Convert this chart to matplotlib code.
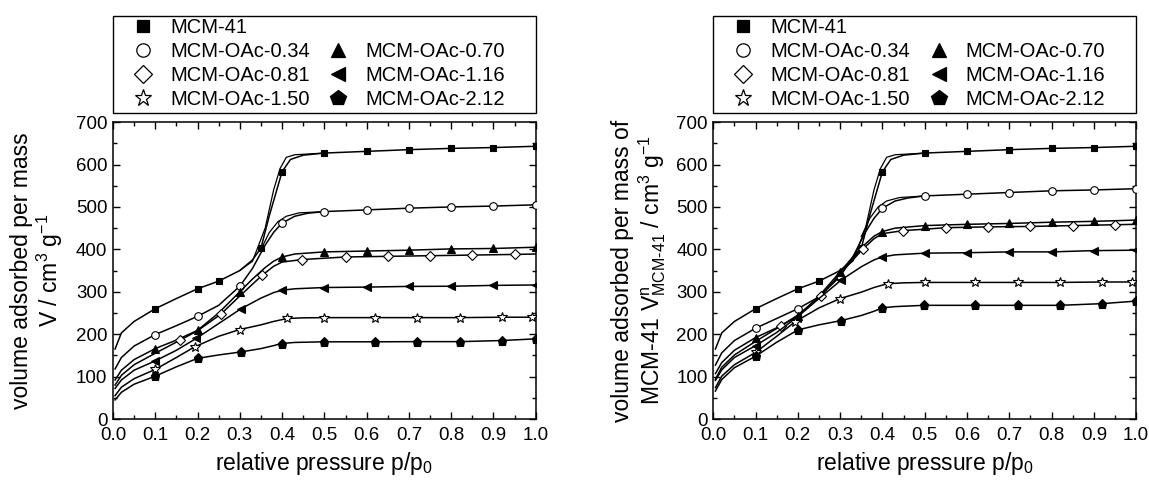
import numpy as np
import matplotlib
matplotlib.use("Agg")
import matplotlib.pyplot as plt
from matplotlib.lines import Line2D
from matplotlib.patches import Rectangle

plt.rcParams['font.family'] = ['Liberation Sans', 'DejaVu Sans']
plt.rcParams['mathtext.default'] = 'regular'

#########################################
# Data
#########################################
NAMES = ["MCM-41", "MCM-OAc-0.34", "MCM-OAc-0.70", "MCM-OAc-0.81",
         "MCM-OAc-1.16", "MCM-OAc-1.50", "MCM-OAc-2.12"]

# MCM-41 (same on both panels)
X_41 = [0.005, 0.02, 0.05, 0.1, 0.15, 0.2, 0.25, 0.3, 0.33, 0.35, 0.37, 0.4,
        0.42, 0.45, 0.5, 0.6, 0.7, 0.8, 0.9, 1.0]
Y_41 = [165, 203, 230, 260, 284, 307, 325, 350, 375, 403, 480, 583,
        612, 622, 627, 631, 635, 638, 640, 643]
M_41 = [0.1, 0.2, 0.25, 0.35, 0.4, 0.5, 0.6, 0.7, 0.8, 0.9, 1.0]
XD_41 = [0.3, 0.33, 0.36, 0.38, 0.395, 0.41, 0.43, 0.5]
YD_41 = [350, 372, 450, 540, 590, 617, 623, 627]

# MCM-OAc-0.34
X_034 = [0.005, 0.02, 0.05, 0.1, 0.15, 0.2, 0.25, 0.3, 0.33, 0.36, 0.38, 0.4,
         0.43, 0.46, 0.5, 0.6, 0.7, 0.8, 0.9, 1.0]
Y_034_L = [118, 145, 172, 199, 220, 242, 268, 313, 355, 410, 440, 462,
           478, 485, 489, 493, 497, 500, 502, 505]
Y_034_R = [127, 156, 185, 214, 237, 260, 288, 336, 382, 441, 473, 497,
           514, 521, 526, 530, 534, 538, 540, 543]
M_034 = [0.1, 0.2, 0.3, 0.4, 0.5, 0.6, 0.7, 0.8, 0.9, 1.0]
XD_034 = [0.35, 0.37, 0.39, 0.41, 0.44, 0.5]
YD_034_L = [400, 440, 465, 478, 486, 489]
YD_034_R = [430, 473, 500, 514, 522, 526]

# MCM-OAc-0.70
X_070 = [0.005, 0.02, 0.05, 0.1, 0.15, 0.2, 0.25, 0.3, 0.33, 0.36, 0.38, 0.4,
         0.43, 0.5, 0.6, 0.7, 0.8, 0.9, 1.0]
Y_070_L = [92, 115, 140, 166, 186, 209, 250, 300, 330, 357, 372, 382,
           389, 394, 396, 398, 401, 402, 405]
Y_070_R = [107, 133, 162, 192, 215, 242, 290, 347, 382, 413, 431, 442,
           450, 456, 459, 461, 464, 466, 469]
M_070 = [0.1, 0.2, 0.3, 0.4, 0.5, 0.6, 0.7, 0.8, 0.9, 1.0]

# MCM-OAc-0.81
X_081 = [0.005, 0.02, 0.05, 0.1, 0.159, 0.2, 0.255, 0.3, 0.353, 0.38, 0.4,
         0.448, 0.55, 0.65, 0.75, 0.85, 0.95, 1.0]
Y_081_L = [80, 103, 128, 155, 186, 208, 247, 290, 339, 360, 370,
           376, 382, 383.5, 385, 386.5, 388, 389]
Y_081_R = [94, 122, 151, 183, 219, 245, 291, 342, 400, 425, 437,
           444, 451, 453, 454, 456, 458, 459]
M_081 = [0.159, 0.255, 0.353, 0.448, 0.55, 0.65, 0.75, 0.85, 0.95]

# MCM-OAc-1.16
X_116 = [0.005, 0.02, 0.05, 0.1, 0.15, 0.197, 0.25, 0.303, 0.35, 0.38, 0.399,
         0.43, 0.5, 0.6, 0.7, 0.8, 0.9, 1.0]
Y_116_L = [72, 92, 115, 137, 162, 190, 225, 260, 285, 298, 303.5,
           307, 310, 311, 312.6, 313, 315, 316]
Y_116_R = [91, 116, 145, 173, 204, 239, 284, 328, 359, 375, 382,
           387, 391, 392, 394, 394, 397, 398]
M_116 = [0.1, 0.197, 0.303, 0.399, 0.5, 0.6, 0.7, 0.8, 0.9, 1.0]

# MCM-OAc-1.50
X_150 = [0.005, 0.02, 0.05, 0.1, 0.15, 0.193, 0.25, 0.3, 0.35, 0.38, 0.412,
         0.45, 0.5, 0.62, 0.72, 0.82, 0.92, 0.99]
Y_150_L = [55, 75, 95, 117, 145, 170, 195, 211, 222, 230, 237,
           238.5, 239, 239, 239, 239, 240, 240]
Y_150_R = [74, 101, 128, 157, 195, 229, 262, 284, 299, 310, 319,
           321, 322, 322, 322, 322, 323, 323]
M_150 = [0.1, 0.193, 0.3, 0.412, 0.5, 0.62, 0.72, 0.82, 0.92, 0.99]

# MCM-OAc-2.12
X_212 = [0.005, 0.02, 0.05, 0.1, 0.15, 0.2, 0.25, 0.302, 0.35, 0.38, 0.399,
         0.43, 0.499, 0.62, 0.72, 0.82, 0.92, 1.0]
Y_212_L = [45, 63, 82, 101, 123, 143, 151, 158, 166, 173, 178,
           180.5, 182, 182, 182.4, 182.4, 185, 189]
Y_212_R = [66, 93, 121, 148, 181, 210, 222, 232, 244, 254, 262,
           265, 268, 268, 268, 268, 272, 278]
M_212 = [0.1, 0.2, 0.302, 0.399, 0.499, 0.62, 0.72, 0.82, 0.92, 1.0]

X_TICKS = [0.0, 0.1, 0.2, 0.3, 0.4, 0.5, 0.6, 0.7, 0.8, 0.9, 1.0]
Y_TICKS = [0, 100, 200, 300, 400, 500, 600, 700]

# marker styles: (marker, filled, size)
STYLES = {
    "MCM-41": ('s', True, 5),
    "MCM-OAc-0.34": ('o', False, 5.5),
    "MCM-OAc-0.70": ('^', True, 6),
    "MCM-OAc-0.81": ('D', False, 5),
    "MCM-OAc-1.16": ('<', True, 6),
    "MCM-OAc-1.50": ('*', False, 7),
    "MCM-OAc-2.12": ('p', True, 6.5),
}


def draw_series(ax, name, x, y, marks, xd=None, yd=None):
    marker, filled, ms = STYLES[name]
    x = np.asarray(x)
    idx = [int(np.argmin(np.abs(x - m))) for m in marks]
    if xd is not None:
        ax.plot(xd, yd, color='black', lw=0.9, zorder=2)
    ax.plot(x, y, color='black', lw=1.1, zorder=3,
            marker=marker, markevery=idx, ms=ms,
            mfc='black' if filled else 'white', mec='black', mew=0.8)


def style_axes(ax):
    ax.set_xlim(0, 1.0)
    ax.set_ylim(0, 700)
    ax.set_xticks(X_TICKS)
    ax.set_xticklabels([f"{t:.1f}" for t in X_TICKS])
    ax.set_yticks(Y_TICKS)
    ax.set_xticks(np.arange(0.05, 1.0, 0.1), minor=True)
    ax.set_yticks(np.arange(50, 700, 100), minor=True)
    ax.tick_params(which='both', direction='in', top=True, right=True,
                   labelsize=13.5, width=1.0)
    ax.tick_params(which='major', length=5, pad=4)
    ax.tick_params(axis='x', which='major', pad=6)
    ax.tick_params(which='minor', length=3)
    for s in ax.spines.values():
        s.set_linewidth(1.1)
    ax.set_xlabel("relative pressure p/p$_0$", fontsize=16.5, labelpad=4)


def add_legend(ax):
    handles = []
    for name in NAMES:
        marker, filled, ms = STYLES[name]
        handles.append(Line2D([], [], ls='none', marker=marker, ms=ms * 1.75,
                              mfc='black' if filled else 'white',
                              mec='black', mew=0.9))
    blank = Line2D([], [], ls='none', marker=None)
    # column-major order: first column then second column
    order_h = [handles[0], handles[1], handles[3], handles[5],
               blank, handles[2], handles[4], handles[6]]
    order_l = [NAMES[0], NAMES[1], NAMES[3], NAMES[5],
               "", NAMES[2], NAMES[4], NAMES[6]]
    ax.add_patch(Rectangle((0, 1.03), 1.0, 0.327, transform=ax.transAxes,
                           fill=False, ec='black', lw=1.0, clip_on=False))
    ax.legend(order_h, order_l, ncol=2, loc='center left',
              bbox_to_anchor=(0.0355, 1.198), frameon=False, fontsize=14.5,
              handlelength=1.5, handletextpad=0.6, columnspacing=0.65,
              labelspacing=0.25, borderpad=0, borderaxespad=0)


fig = plt.figure(figsize=(11.49, 4.82), dpi=100)
ax1 = fig.add_axes([0.0983, 0.1307, 0.368, 0.616])
ax2 = fig.add_axes([0.6208, 0.1307, 0.368, 0.616])

# left panel
draw_series(ax1, "MCM-41", X_41, Y_41, M_41, XD_41, YD_41)
draw_series(ax1, "MCM-OAc-0.34", X_034, Y_034_L, M_034, XD_034, YD_034_L)
draw_series(ax1, "MCM-OAc-0.70", X_070, Y_070_L, M_070)
draw_series(ax1, "MCM-OAc-0.81", X_081, Y_081_L, M_081)
draw_series(ax1, "MCM-OAc-1.16", X_116, Y_116_L, M_116)
draw_series(ax1, "MCM-OAc-1.50", X_150, Y_150_L, M_150)
draw_series(ax1, "MCM-OAc-2.12", X_212, Y_212_L, M_212)

# right panel
draw_series(ax2, "MCM-41", X_41, Y_41, M_41, XD_41, YD_41)
draw_series(ax2, "MCM-OAc-0.34", X_034, Y_034_R, M_034, XD_034, YD_034_R)
draw_series(ax2, "MCM-OAc-0.70", X_070, Y_070_R, M_070)
draw_series(ax2, "MCM-OAc-0.81", X_081, Y_081_R, M_081)
draw_series(ax2, "MCM-OAc-1.16", X_116, Y_116_R, M_116)
draw_series(ax2, "MCM-OAc-1.50", X_150, Y_150_R, M_150)
draw_series(ax2, "MCM-OAc-2.12", X_212, Y_212_R, M_212)

for ax in (ax1, ax2):
    style_axes(ax)
    add_legend(ax)

ax1.set_ylabel("volume adsorbed per mass\nV / cm$^3$ g$^{-1}$", fontsize=16.5,
               linespacing=1.1)
ax1.yaxis.set_label_coords(-0.113, 0.5)
ax2.set_ylabel("volume adsorbed per mass of\n"
               "MCM-41 V$^n_{MCM\u201041}$ / cm$^3$ g$^{-1}$", fontsize=16.5,
               linespacing=1.1)
ax2.yaxis.set_label_coords(-0.107, 0.5)

fig.savefig("out.png", dpi=100)
